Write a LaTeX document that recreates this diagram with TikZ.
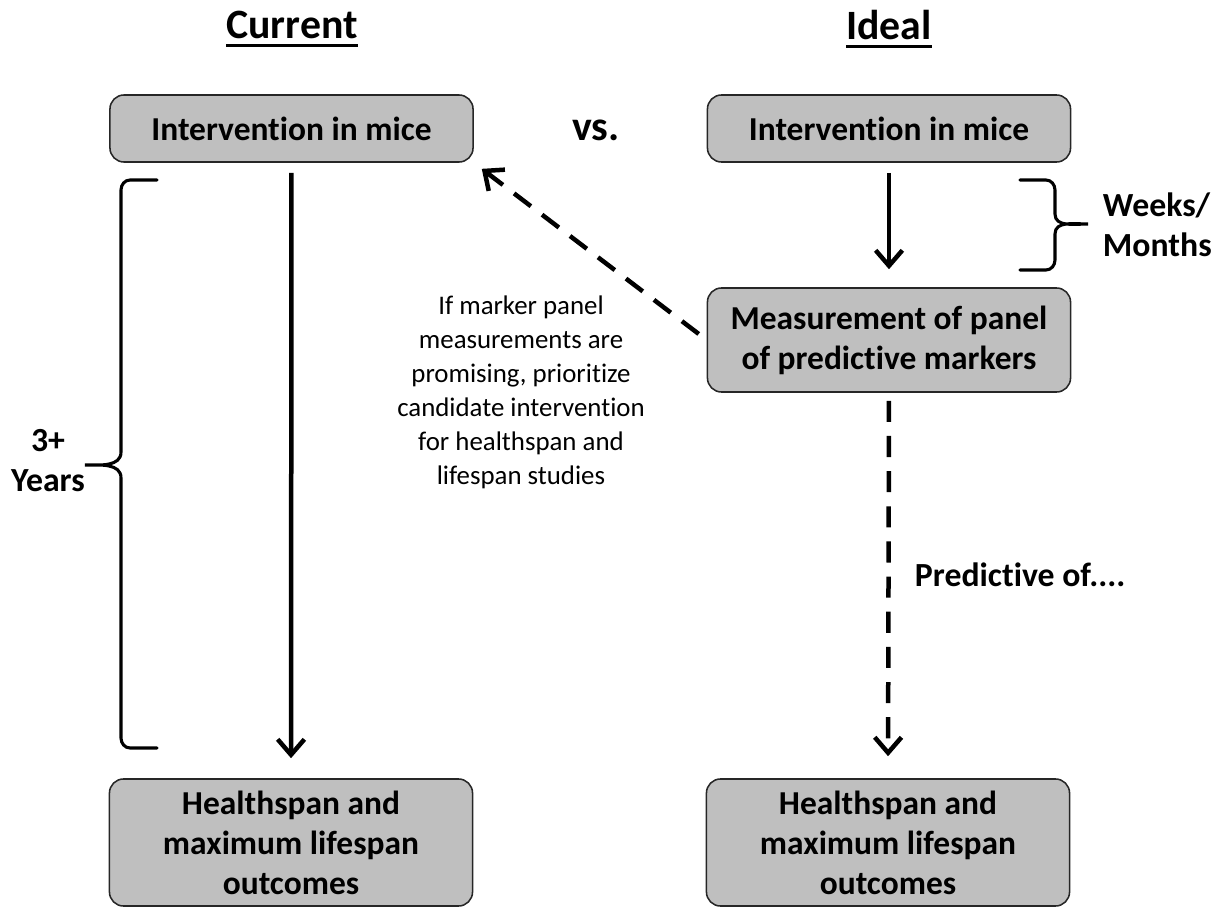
\documentclass[tikz,border=0pt]{standalone}
\usepackage{fontspec}
\setmainfont{Carlito}[Ligatures=NoCommon]
\usepackage{xcolor}
\usepackage{tikz}
\usetikzlibrary{arrows.meta}

\definecolor{boxgray}{RGB}{191,191,191}

\begin{document}
\begin{tikzpicture}[x=0.025cm, y=-0.025cm,
  box/.style={draw=black!85, fill=boxgray, line width=1.1pt, rounded corners=10pt,
    minimum width=9.075cm, inner sep=0pt, align=center,
    font=\fontsize{23.8}{28.5}\selectfont\bfseries},
  arr/.style={line width=3.2pt, -{Straight Barb[length=11pt, width=19pt, line width=3.2pt]}},
  dasharr/.style={arr, dash pattern=on 15pt off 10pt},
  brace/.style={line width=2.2pt, line cap=round},
  lbl/.style={font=\fontsize{24}{28.5}\selectfont\bfseries},
  title/.style={inner sep=0pt, font=\fontsize{29.7}{34}\selectfont\bfseries}]
  \useasboundingbox (0,0) rectangle (1225,920);

  % column titles
  \node[title] (curtitle) at (292,25) {Current};
  \node[title] (idealtitle) at (889,25) {Ideal};
  \draw[line width=2pt] ([yshift=-5pt]curtitle.base west) -- ([yshift=-5pt]curtitle.base east);
  \draw[line width=2pt] ([yshift=-5pt]idealtitle.base west) -- ([yshift=-5pt]idealtitle.base east);
  \node[title] (vs) at (596,130) {vs.};

  % Current pipeline
  \node[box, minimum height=1.675cm] (curtop) at (291.5,128.5) {Intervention in mice};
  \node[box, minimum height=3.175cm] (curbot) at (291,842.5)
    {Healthspan and\\maximum lifespan\\outcomes};

  % Ideal pipeline
  \node[box, minimum height=1.675cm] (idealtop) at (889,128.5) {Intervention in mice};
  \node[box, minimum height=2.6cm] (meas) at (889,340)
    {Measurement of panel\\of predictive markers};
  \node[box, minimum height=3.175cm] (idealbot) at (888,842.5)
    {Healthspan and\\maximum lifespan\\outcomes};

  % Connectors
  \draw[arr, shorten <=0.25cm, shorten >=0.5cm] (curtop.south) -- (curbot.north);
  \draw[arr, shorten <=0.25cm, shorten >=0.45cm] (idealtop.south) -- (meas.north);
  \draw[dasharr, shorten <=0.2cm, shorten >=0.55cm] (meas.south) -- (idealbot.north);
  \draw[dasharr, shorten <=0.25cm, shorten >=0.25cm] (meas.west) -- (curtop.south east);

  % Braces
  \draw[brace] (157,180) -- (130,180) to[out=180,in=90] (121,190) -- (121,452)
    to[out=-90,in=0] (85,465) to[out=0,in=90] (121,478) -- (121,738)
    to[out=-90,in=180] (130,748) -- (157,748);
  \draw[brace] (1020,180) -- (1046,180) to[out=0,in=90] (1055,190) -- (1055,214)
    to[out=-90,in=180] (1088,224) to[out=180,in=90] (1055,234) -- (1055,260)
    to[out=-90,in=0] (1046,270) -- (1020,270);

  % Annotations
  \node[lbl, align=center] (years) at (48,461) {3+\\Years};
  \node[lbl, align=left, anchor=west] (weeks) at (1098,225) {Weeks/\\Months};
  \node[lbl, anchor=west] (pred) at (910,575) {Predictive of....};
  \node[align=center, font=\fontsize{19.1}{24.2}\selectfont] (note) at (521,392)
    {If marker panel\\measurements are\\promising, prioritize\\candidate intervention\\for healthspan and\\lifespan studies};
\end{tikzpicture}
\end{document}
